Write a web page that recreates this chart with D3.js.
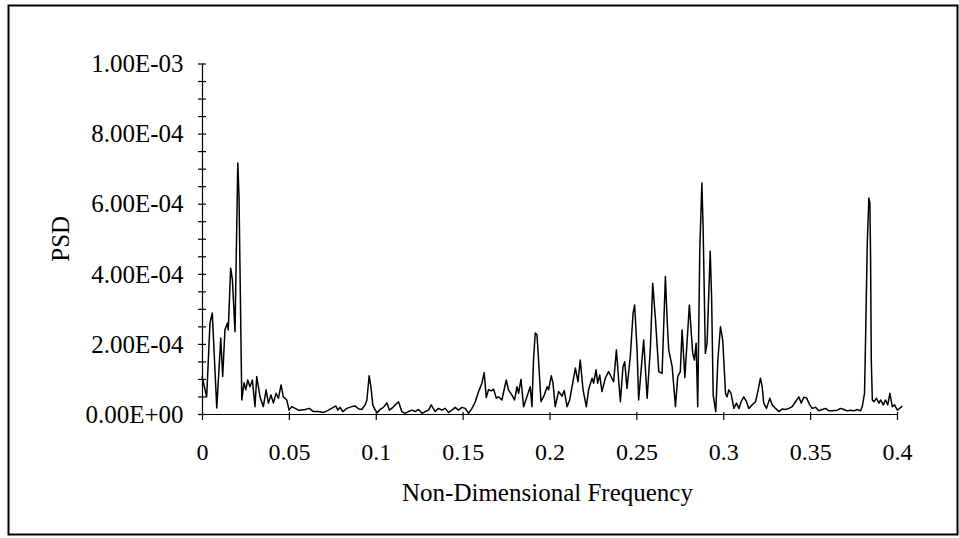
<!DOCTYPE html>
<html>
<head>
<meta charset="utf-8">
<script src="https://cdn.jsdelivr.net/npm/d3@7"></script>
<style>
  html, body { margin: 0; padding: 0; background: #fff; }
  svg { display: block; }
  text { font-family: "Liberation Serif", "Times New Roman", serif; fill: #000; }
</style>
</head>
<body>
<div id="chart"></div>
<script>
/* =========================
   Data
========================= */
// Non-dimensional frequency
const freq = [
  0.0000, 0.0027, 0.0046, 0.0059, 0.0085, 0.0108, 0.0119, 0.0132, 0.0146, 0.0151,
  0.0165, 0.0175, 0.0190, 0.0206, 0.0213, 0.0229, 0.0242, 0.0252, 0.0263, 0.0276,
  0.0290, 0.0305, 0.0315, 0.0334, 0.0353, 0.0369, 0.0382, 0.0397, 0.0411, 0.0426,
  0.0440, 0.0455, 0.0468, 0.0488, 0.0501, 0.0517, 0.0536, 0.0555, 0.0565, 0.0593,
  0.0618, 0.0641, 0.0670, 0.0699, 0.0728, 0.0756, 0.0770, 0.0782, 0.0795, 0.0810,
  0.0834, 0.0862, 0.0881, 0.0900, 0.0920, 0.0939, 0.0949, 0.0962, 0.0972, 0.0983,
  0.0997, 0.1010, 0.1025, 0.1044, 0.1064, 0.1079, 0.1099, 0.1112, 0.1131, 0.1150,
  0.1169, 0.1188, 0.1208, 0.1227, 0.1246, 0.1266, 0.1285, 0.1304, 0.1319, 0.1342,
  0.1361, 0.1381, 0.1400, 0.1419, 0.1438, 0.1457, 0.1476, 0.1496, 0.1515, 0.1534,
  0.1554, 0.1573, 0.1592, 0.1611, 0.1624, 0.1636, 0.1649, 0.1665, 0.1678, 0.1694,
  0.1707, 0.1726, 0.1751, 0.1764, 0.1784, 0.1799, 0.1813, 0.1822, 0.1836, 0.1851,
  0.1870, 0.1889, 0.1899, 0.1908, 0.1918, 0.1928, 0.1937, 0.1951, 0.1970, 0.1986,
  0.1995, 0.2010, 0.2020, 0.2033, 0.2052, 0.2072, 0.2085, 0.2101, 0.2116, 0.2130,
  0.2149, 0.2164, 0.2177, 0.2193, 0.2212, 0.2225, 0.2245, 0.2254, 0.2268, 0.2277,
  0.2289, 0.2302, 0.2321, 0.2340, 0.2354, 0.2369, 0.2385, 0.2398, 0.2408, 0.2423,
  0.2433, 0.2446, 0.2465, 0.2481, 0.2490, 0.2504, 0.2513, 0.2533, 0.2542, 0.2562,
  0.2581, 0.2594, 0.2610, 0.2629, 0.2648, 0.2667, 0.2677, 0.2686, 0.2706, 0.2725,
  0.2738, 0.2753, 0.2763, 0.2779, 0.2805, 0.2824, 0.2834, 0.2844, 0.2853, 0.2865,
  0.2877, 0.2884, 0.2897, 0.2907, 0.2925, 0.2933, 0.2942, 0.2957, 0.2969, 0.2984,
  0.2997, 0.3013, 0.3022, 0.3032, 0.3045, 0.3061, 0.3076, 0.3090, 0.3103, 0.3118,
  0.3134, 0.3147, 0.3166, 0.3186, 0.3201, 0.3214, 0.3224, 0.3233, 0.3249, 0.3268,
  0.3282, 0.3301, 0.3320, 0.3339, 0.3358, 0.3378, 0.3397, 0.3416, 0.3435, 0.3449,
  0.3464, 0.3479, 0.3498, 0.3512, 0.3531, 0.3550, 0.3570, 0.3589, 0.3608, 0.3627,
  0.3656, 0.3675, 0.3694, 0.3714, 0.3733, 0.3752, 0.3771, 0.3790, 0.3800, 0.3813,
  0.3819, 0.3829, 0.3838, 0.3844, 0.3848, 0.3852, 0.3858, 0.3867, 0.3882, 0.3896,
  0.3906, 0.3921, 0.3934, 0.3947, 0.3959, 0.3973, 0.3986, 0.4002, 0.4015, 0.4031
];

// PSD, in units of 1e-4
const psd = [
  1.07, 0.49, 2.60, 2.88, 0.17, 2.17, 1.07, 2.40, 2.59, 2.40,
  4.16, 3.83, 2.35, 7.16, 6.21, 0.40, 0.89, 0.69, 0.97, 0.78,
  0.97, 0.21, 1.07, 0.49, 0.21, 0.69, 0.31, 0.54, 0.31, 0.59,
  0.45, 0.83, 0.49, 0.40, 0.11, 0.21, 0.16, 0.11, 0.11, 0.13,
  0.16, 0.07, 0.07, 0.04, 0.11, 0.19, 0.23, 0.11, 0.19, 0.07,
  0.16, 0.21, 0.23, 0.15, 0.13, 0.26, 0.40, 1.09, 0.78, 0.26,
  0.11, 0.04, 0.13, 0.19, 0.32, 0.11, 0.19, 0.26, 0.35, 0.07,
  0.02, 0.07, 0.11, 0.07, 0.13, 0.02, 0.07, 0.11, 0.26, 0.07,
  0.16, 0.11, 0.16, 0.04, 0.11, 0.19, 0.11, 0.19, 0.16, 0.02,
  0.16, 0.35, 0.64, 0.88, 1.18, 0.47, 0.69, 0.66, 0.71, 0.45,
  0.49, 0.40, 0.97, 0.69, 0.54, 0.40, 0.78, 0.59, 0.99, 0.21,
  0.49, 0.78, 0.21, 1.54, 2.31, 2.26, 1.54, 0.35, 0.54, 0.78,
  0.69, 1.09, 0.88, 0.21, 0.64, 0.51, 0.67, 0.21, 0.40, 0.78,
  1.31, 0.92, 1.54, 0.69, 0.21, 0.69, 1.02, 0.88, 1.26, 0.88,
  1.11, 0.64, 1.02, 1.21, 1.07, 0.92, 1.83, 0.97, 0.35, 1.35,
  1.49, 0.73, 1.64, 2.88, 3.11, 1.83, 0.40, 1.59, 2.11, 0.45,
  1.92, 3.73, 2.69, 1.21, 1.16, 3.92, 2.69, 1.83, 1.35, 0.21,
  1.07, 1.21, 2.40, 1.04, 3.11, 1.74, 1.54, 2.02, 0.21, 4.69,
  6.59, 5.35, 1.73, 2.02, 4.64, 3.34, 0.54, 0.07, 1.54, 2.49,
  2.11, 0.59, 0.49, 0.69, 0.59, 0.16, 0.31, 0.16, 0.35, 0.49,
  0.35, 0.16, 0.26, 0.35, 0.69, 1.02, 0.78, 0.31, 0.16, 0.45,
  0.26, 0.16, 0.07, 0.14, 0.13, 0.16, 0.21, 0.35, 0.49, 0.31,
  0.48, 0.46, 0.26, 0.16, 0.19, 0.09, 0.13, 0.16, 0.09, 0.09,
  0.11, 0.16, 0.13, 0.09, 0.11, 0.09, 0.13, 0.09, 0.21, 0.59,
  2.11, 4.88, 6.16, 6.02, 4.40, 1.54, 0.40, 0.35, 0.45, 0.31,
  0.40, 0.26, 0.40, 0.26, 0.59, 0.21, 0.26, 0.11, 0.16, 0.23
];

// axis ticks
const xTicks = [0, 0.05, 0.1, 0.15, 0.2, 0.25, 0.3, 0.35, 0.4];
const xTickLabels = ["0", "0.05", "0.1", "0.15", "0.2", "0.25", "0.3", "0.35", "0.4"];
const yTicks = [0, 2e-4, 4e-4, 6e-4, 8e-4, 1e-3];
const yTickLabels = ["0.00E+00", "2.00E-04", "4.00E-04", "6.00E-04", "8.00E-04", "1.00E-03"];
const yMinorTicks = d3.range(0, 21).map(i => i * 5e-5);

/* =========================
   Layout
========================= */
const W = 959, H = 538;
const margin = { top: 63.5, right: 62, bottom: 124, left: 202 };
const innerW = W - margin.left - margin.right;
const innerH = H - margin.top - margin.bottom;

const svg = d3.select("#chart")
  .append("svg")
  .attr("width", W)
  .attr("height", H);

// outer frame
svg.append("rect")
  .attr("x", 8.5)
  .attr("y", 5.5)
  .attr("width", 949)
  .attr("height", 529)
  .attr("fill", "none")
  .attr("stroke", "#000")
  .attr("stroke-width", 2);

const g = svg.append("g")
  .attr("transform", `translate(${margin.left},${margin.top})`);

const x = d3.scaleLinear().domain([0, 0.4]).range([0, innerW]);
const y = d3.scaleLinear().domain([0, 1e-3]).range([innerH, 0]);

/* =========================
   Axes
========================= */
// y minor ticks (cross the axis)
const yAxisG = g.append("g")
  .call(d3.axisLeft(y).tickValues(yMinorTicks).tickSize(4).tickFormat(""));
yAxisG.selectAll(".tick line").attr("x2", -4).attr("x1", 4);
yAxisG.select(".domain").attr("d", `M0.5,${innerH}V0`);

// y labels
const yLab = g.append("g")
  .call(d3.axisLeft(y).tickValues(yTicks).tickSize(0)
    .tickFormat((d, i) => yTickLabels[i]));
yLab.select(".domain").remove();
yLab.selectAll(".tick text")
  .attr("x", -18.5)
  .attr("dy", "0.33em")
  .attr("font-size", 25)
  .attr("font-family", "Liberation Serif, Times New Roman, serif");

// x axis
const xAxisG = g.append("g")
  .attr("transform", `translate(0,${innerH})`)
  .call(d3.axisBottom(x).tickValues(xTicks).tickSize(6)
    .tickFormat((d, i) => xTickLabels[i]));
xAxisG.select(".domain").attr("d", `M0,0.5H${innerW}`);
xAxisG.selectAll(".tick line").attr("y1", -2).attr("y2", 6);
xAxisG.selectAll(".tick text")
  .attr("y", 29)
  .attr("dy", "0.71em")
  .attr("font-size", 24)
  .attr("font-family", "Liberation Serif, Times New Roman, serif");

svg.selectAll(".domain, .tick line")
  .attr("stroke", "#000")
  .attr("stroke-width", 1.2);

// axis titles
svg.append("text")
  .attr("x", margin.left + innerW / 2 - 2)
  .attr("y", 501)
  .attr("text-anchor", "middle")
  .attr("font-size", 25)
  .text("Non-Dimensional Frequency");

svg.append("text")
  .attr("transform", `translate(69,${margin.top + innerH / 2}) rotate(-90)`)
  .attr("text-anchor", "middle")
  .attr("font-size", 25)
  .text("PSD");

/* =========================
   Line
========================= */
const points = freq.map((f, i) => ({ f: f, v: psd[i] * 1e-4 }));

const line = d3.line()
  .x(d => x(d.f))
  .y(d => y(d.v));

g.append("path")
  .datum(points)
  .attr("fill", "none")
  .attr("stroke", "#000")
  .attr("stroke-width", 1.5)
  .attr("stroke-linejoin", "round")
  .attr("d", line);
</script>
</body>
</html>
